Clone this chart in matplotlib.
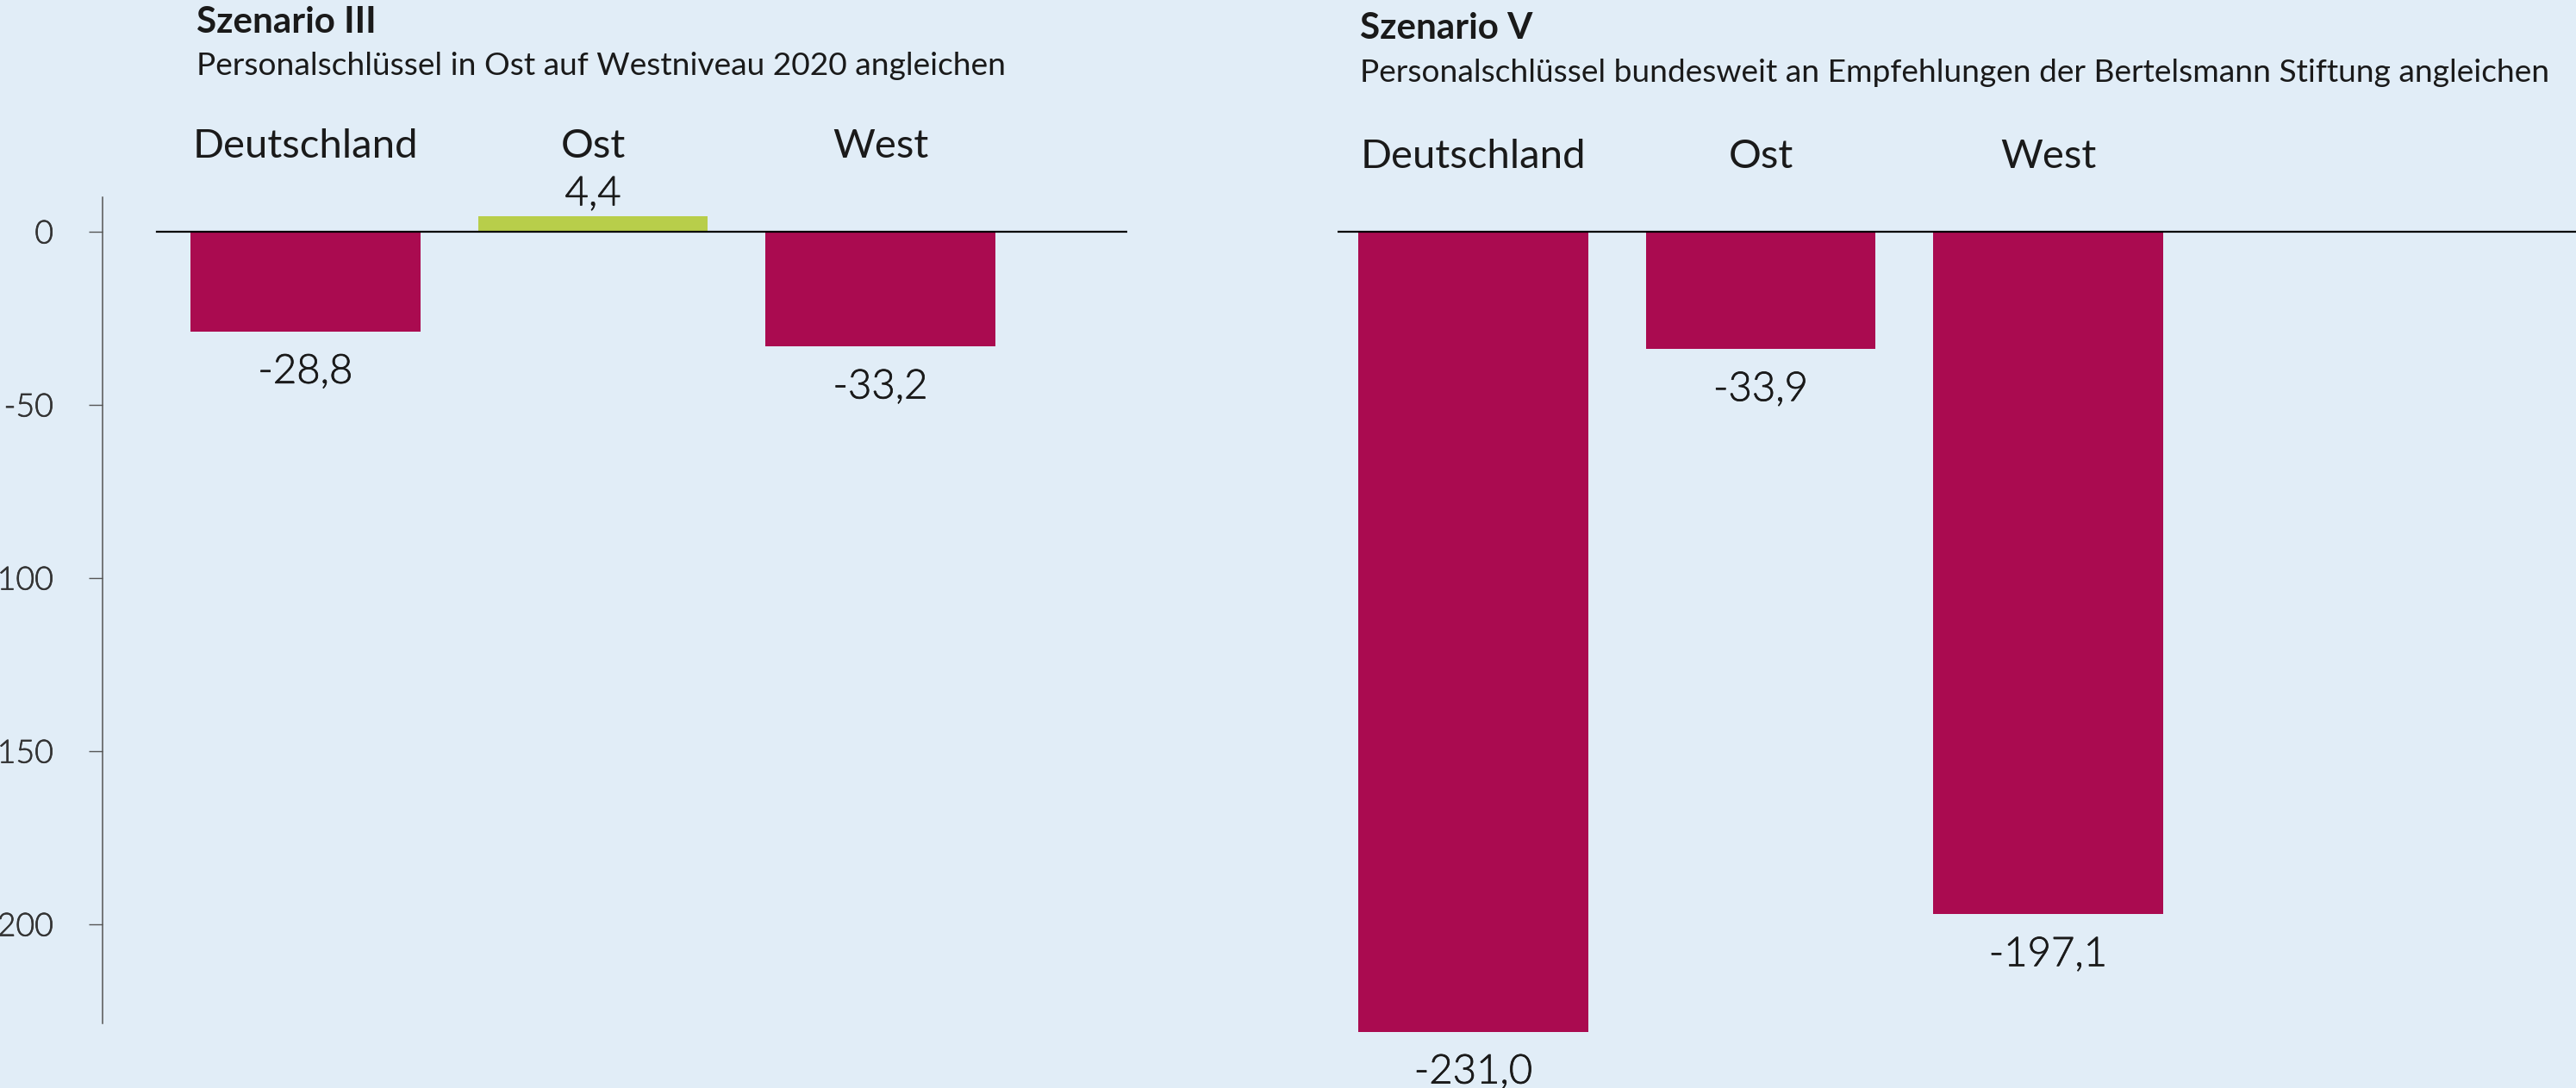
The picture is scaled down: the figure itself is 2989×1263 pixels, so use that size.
import matplotlib
matplotlib.use("Agg")
import matplotlib.pyplot as plt
import matplotlib.patheffects as pe
from matplotlib.transforms import blended_transform_factory

# ---- data ----
categories = ["Deutschland", "Ost", "West"]
szenario3_values = [-28.8, 4.4, -33.2]
szenario5_values = [-231.0, -33.9, -197.1]
labels3 = ["-28,8", "4,4", "-33,2"]
labels5 = ["-231,0", "-33,9", "-197,1"]
yticks = [0, -50, -100, -150, -200]
ytick_labels = ["0", "-50", "-100", "-150", "-200"]
title3 = "Szenario III"
subtitle3 = "Personalschlüssel in Ost auf Westniveau 2020 angleichen"
title5 = "Szenario V"
subtitle5 = "Personalschlüssel bundesweit an Empfehlungen der Bertelsmann Stiftung angleichen"

W, H = 2989, 1263
DPI = 100
BG = "#E1EDF7"
NEG = "#AA0B50"
POS = "#B8CE4A"
TXT = "#1a1a1a"
FONT = ["Lato", "DejaVu Sans"]

plt.rcParams["font.family"] = FONT

fig = plt.figure(figsize=(W / DPI, H / DPI), dpi=DPI, facecolor=BG)

zero_px = 269.0
ppu = 4.02
ylim = (-(H - zero_px) / ppu, zero_px / ppu)
spacing = 333.5
thicken = [pe.withStroke(linewidth=0.55, foreground=TXT)]


def fx(px):
    return px / W


def fy(py):
    return 1 - py / H


def make_axes(x0, x1, c0):
    ax = fig.add_axes([fx(x0), 0, (x1 - x0) / W, 1])
    ax.set_facecolor("none")
    ax.set_xlim(-(c0 - x0) / spacing, -(c0 - x0) / spacing + (x1 - x0) / spacing)
    ax.set_ylim(*ylim)
    for s in ["top", "right", "bottom"]:
        ax.spines[s].set_visible(False)
    ax.set_xticks([])
    return ax


def draw_bars(ax, values, labels):
    xs = list(range(len(values)))
    colors = [POS if v > 0 else NEG for v in values]
    ax.bar(xs, values, width=0.8, color=colors, zorder=2)
    for x, v, lab in zip(xs, values, labels):
        off = 13 if v > 0 else -60
        ax.annotate(lab, (x, v), xytext=(0, off), textcoords="offset pixels",
                    ha="center", va="baseline", fontsize=34, fontweight=300,
                    color=TXT, path_effects=thicken)


# ---- left panel ----
axL = make_axes(119, 1308, 354.5)
draw_bars(axL, szenario3_values, labels3)
axL.axhline(0, xmin=(182 - 119) / (1308 - 119), xmax=1, color="black", lw=1.6, zorder=3)
axL.spines["left"].set_bounds(-228.5, 9.9)
axL.spines["left"].set_color("#555555")
axL.spines["left"].set_linewidth(1.1)
axL.set_yticks(yticks)
axL.set_yticklabels(ytick_labels)
axL.tick_params(axis="y", length=11.5, width=1.0, color="#555555", pad=29.5,
                labelsize=27, labelcolor="#333333")
for t in axL.get_yticklabels():
    t.set_fontweight(300)
    t.set_path_effects([pe.withStroke(linewidth=0.5, foreground="#333333")])

trL = blended_transform_factory(axL.transData, fig.transFigure)
for i, c in enumerate(categories):
    axL.text(i, fy(183), c, transform=trL, ha="center", va="baseline",
             fontsize=34, color=TXT)
fig.text(fx(228), fy(38), title3, ha="left", va="baseline", fontsize=30.3,
         fontweight="bold", color=TXT)
fig.text(fx(228), fy(87), subtitle3, ha="left", va="baseline", fontsize=26.7,
         color=TXT)

# ---- right panel ----
axR = make_axes(1552, 2989, 1709.5)
draw_bars(axR, szenario5_values, labels5)
axR.axhline(0, color="black", lw=1.6, zorder=3)
axR.spines["left"].set_visible(False)
axR.set_yticks([])

trR = blended_transform_factory(axR.transData, fig.transFigure)
for i, c in enumerate(categories):
    axR.text(i, fy(195), c, transform=trR, ha="center", va="baseline",
             fontsize=34, color=TXT)
fig.text(fx(1578), fy(45), title5, ha="left", va="baseline", fontsize=30.3,
         fontweight="bold", color=TXT)
fig.text(fx(1578), fy(95), subtitle5, ha="left", va="baseline", fontsize=26.7,
         color=TXT)

fig.savefig("out.png", dpi=DPI, facecolor=BG)
